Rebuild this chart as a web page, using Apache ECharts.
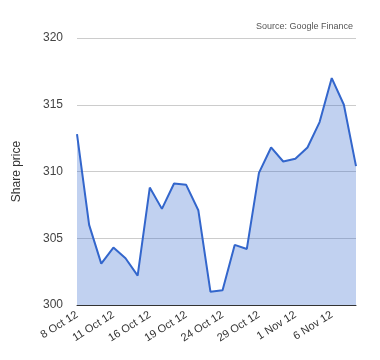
<!DOCTYPE html>
<html><head><meta charset="utf-8">
<script src="https://cdn.jsdelivr.net/npm/echarts@6/dist/echarts.min.js"></script>
<style>html,body{margin:0;padding:0;background:#fff}#c{width:380px;height:360px}</style>
</head><body><div id="c"></div>
<script>
const categories = ["8 Oct 12","9 Oct 12","10 Oct 12","11 Oct 12","12 Oct 12","15 Oct 12","16 Oct 12","17 Oct 12","18 Oct 12","19 Oct 12","22 Oct 12","23 Oct 12","24 Oct 12","25 Oct 12","26 Oct 12","29 Oct 12","30 Oct 12","31 Oct 12","1 Nov 12","2 Nov 12","5 Nov 12","6 Nov 12","7 Nov 12","8 Nov 12"];
const prices = [312.8,306.0,303.1,304.3,303.5,302.2,308.8,307.2,309.1,309.0,307.1,301.0,301.1,304.5,304.2,309.9,311.8,310.75,310.95,311.8,313.7,317.0,315.0,310.4];
const yTicks = [300,305,310,315,320];
const font = "Liberation Sans, Arial, sans-serif";
const chart = echarts.init(document.getElementById('c'), null, {renderer:'canvas'});
chart.setOption({
  animation:false,
  graphic:[{type:'text', right:27, top:22, style:{text:'Source: Google Finance', fill:'#555', font:'9px '+font}}],
  grid:{left:77,right:24,top:38,bottom:55},
  xAxis:{type:'category', data:categories, boundaryGap:false,
    axisLine:{show:true, lineStyle:{color:'#333', width:1}},
    axisTick:{show:false},
    axisLabel:{interval:2, rotate:32, color:'#333', fontSize:11, fontFamily:font, margin:9}},
  yAxis:{type:'value', min:yTicks[0], max:yTicks[yTicks.length-1], interval:5,
    name:'Share price', nameLocation:'middle', nameGap:54, nameRotate:90,
    nameTextStyle:{color:'#333', fontSize:12, fontFamily:font},
    axisLine:{show:false}, axisTick:{show:false},
    axisLabel:{color:'#444', fontSize:12, fontFamily:font, margin:14},
    splitLine:{lineStyle:{color:'#ccc', width:1}}},
  series:[{type:'line', data:prices, symbol:'none',
    lineStyle:{color:'#3366cc', width:2},
    areaStyle:{color:'#3366cc', opacity:0.3}}]
});
</script></body></html>
